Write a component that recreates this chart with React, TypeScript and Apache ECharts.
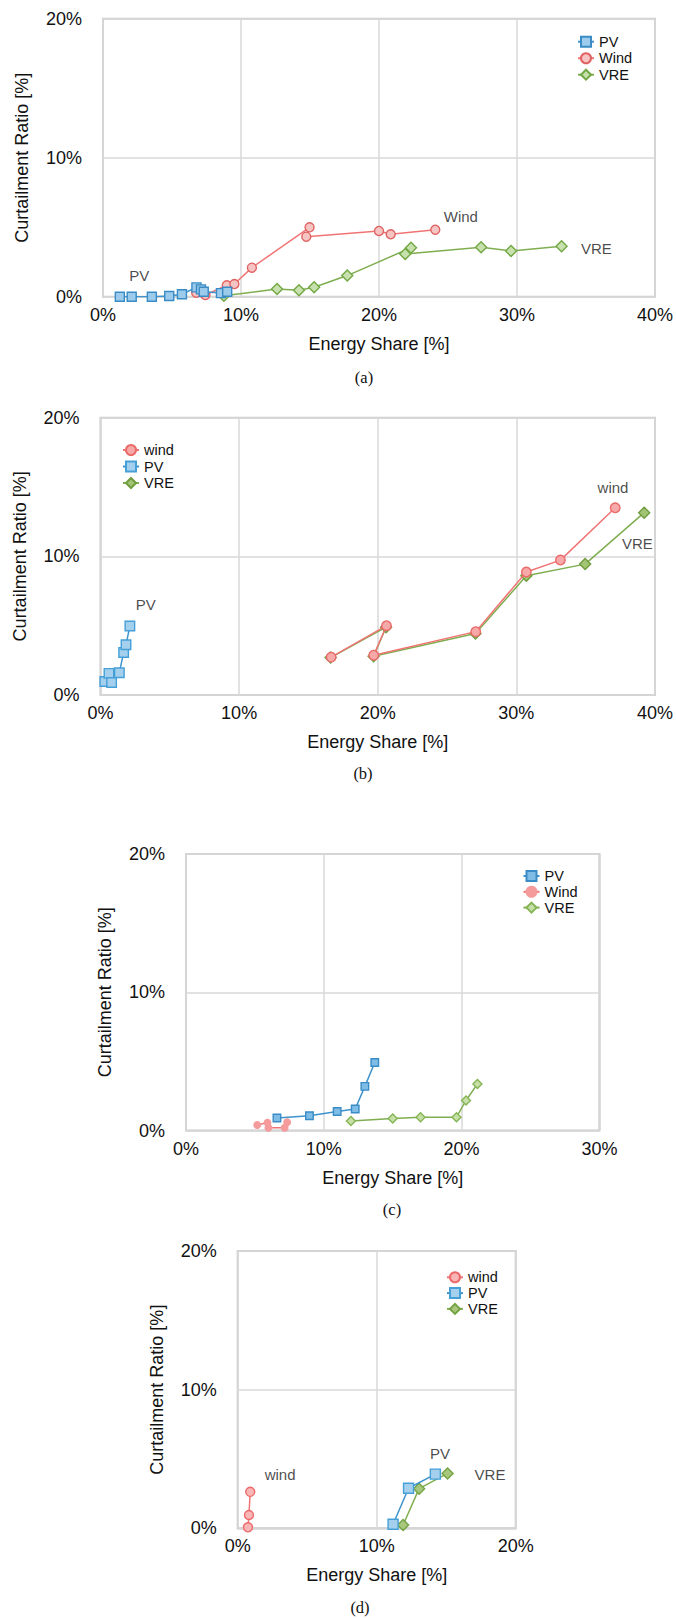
import React, { useEffect, useRef } from "react";
import * as echarts from "echarts";

// ---------- data (Energy Share %, Curtailment Ratio %) ----------
const panelNames = ["(a)", "(b)", "(c)", "(d)"];
const xMaxes = [40, 40, 30, 20];
const yMax = 20;

const pvA = [[1.22, 0], [2.08, 0], [3.54, 0], [4.8, 0.05], [5.72, 0.18], [6.77, 0.67], [7.1, 0.53], [7.3, 0.36], [8.55, 0.26], [9.0, 0.36]];
const windA = [[6.75, 0.29], [7.42, 0.12], [8.97, 0.82], [9.52, 0.91], [10.79, 2.09], [14.97, 4.99], [14.73, 4.32], [20.0, 4.73], [20.85, 4.49], [24.08, 4.82]];
const vreA = [[8.76, 0.06], [12.61, 0.56], [14.2, 0.46], [15.3, 0.68], [17.7, 1.52], [22.32, 3.52], [21.9, 3.07], [27.4, 3.56], [29.57, 3.29], [33.23, 3.63]];

const windB = [[16.64, 2.73], [20.63, 5.0], [19.71, 2.87], [27.07, 4.57], [30.72, 8.87], [33.18, 9.73], [37.13, 13.5]];
const pvB = [[0.31, 0.97], [0.61, 1.56], [0.8, 0.9], [1.36, 1.61], [1.67, 3.07], [1.84, 3.62], [2.12, 4.98]];
const vreB = [[16.6, 2.7], [20.6, 4.89], [19.7, 2.8], [27.05, 4.44], [30.72, 8.6], [34.96, 9.44], [39.22, 13.15]];

const pvC = [[6.6, 0.9], [8.96, 1.07], [10.97, 1.37], [12.28, 1.56], [12.98, 3.19], [13.7, 4.92]];
const windC = [[5.17, 0.4], [5.91, 0.57], [5.98, 0.2], [7.16, 0.2], [7.34, 0.6]];
const vreC = [[11.97, 0.69], [15.0, 0.87], [17.02, 0.96], [19.63, 0.96], [20.32, 2.17], [21.15, 3.37]];

const windD = [[0.74, 0.07], [0.81, 0.96], [0.9, 2.63]];
const pvD = [[11.18, 0.29], [12.29, 2.89], [14.22, 3.91]];
const vreD = [[11.9, 0.24], [13.05, 2.86], [15.1, 3.96]];

const legendA = ["PV", "Wind", "VRE"];
const legendB = ["wind", "PV", "VRE"];
const legendC = ["PV", "Wind", "VRE"];
const legendD = ["wind", "PV", "VRE"];

// in-plot annotations: [text, energy share %, curtailment %]
const notesA: [string, number, number][] = [["PV", 2.63, 1.5], ["Wind", 25.93, 5.8], ["VRE", 35.75, 3.49]];
const notesB: [string, number, number][] = [["PV", 3.26, 6.5], ["wind", 36.97, 14.98], ["VRE", 38.73, 10.91]];
const notesD: [string, number, number][] = [["wind", 3.05, 3.9], ["PV", 14.56, 5.42], ["VRE", 18.15, 3.9]];

const FONT = "Liberation Sans";

const BLUE_LINE = "#3f93cc";
const RED_LINE = "#f07474";
const GREEN_LINE = "#7fae50";

type Sty = { fill: string; border: string; size: number };

function lineSeries(id: string, label: string, idx: number, data: number[][], symbol: string, lineColor: string, s: Sty, z: number) {
  return {
    type: "line",
    name: id + ":" + label,
    xAxisIndex: idx,
    yAxisIndex: idx,
    data,
    symbol,
    symbolSize: s.size,
    showSymbol: true,
    z,
    lineStyle: { color: lineColor, width: 1.5 },
    itemStyle: { color: s.fill, borderColor: s.border, borderWidth: 1.4 },
    emphasis: { disabled: true },
  };
}

function noteSeries(idx: number, notes: [string, number, number][]) {
  return {
    type: "scatter",
    name: "notes" + idx,
    xAxisIndex: idx,
    yAxisIndex: idx,
    symbolSize: 0,
    silent: true,
    z: 20,
    data: notes.map((n) => ({ name: n[0], value: [n[1], n[2]] })),
    label: {
      show: true,
      position: "inside",
      formatter: (p: any) => p.name,
      fontFamily: FONT,
      fontSize: 15,
      color: "#1a1a1a",
    },
  };
}

export default function App() {
  const ref = useRef<HTMLDivElement>(null);
  useEffect(() => {
    if (!ref.current) return;
    const chart = echarts.init(ref.current, undefined, { renderer: "svg" });

    const grids = [
      { left: 103, top: 18.7, width: 554.5, height: 278 },
      { left: 100.5, top: 417.7, width: 555, height: 277.3 },
      { left: 186, top: 854, width: 413.4, height: 276.5 },
      { left: 237.7, top: 1251, width: 278, height: 277.3 },
    ].map((g) => ({ ...g, show: true, borderColor: "#c9c9c9", borderWidth: 2, backgroundColor: "#ffffff" }));

    const xAxes = xMaxes.map((mx, i) => ({
      type: "value",
      gridIndex: i,
      min: 0,
      max: mx,
      interval: 10,
      name: "Energy Share [%]",
      nameLocation: "middle",
      nameGap: 38,
      nameTextStyle: { fontFamily: FONT, fontSize: 18, color: "#111111" },
      axisLine: { show: false },
      axisTick: { show: false },
      axisLabel: { formatter: "{value}%", fontFamily: FONT, fontSize: 18, color: "#111111", margin: 9 },
      splitLine: { show: true, lineStyle: { color: "#d9d9d9", width: 1.5 } },
    }));
    const yAxes = xMaxes.map((_, i) => ({
      type: "value",
      gridIndex: i,
      min: 0,
      max: yMax,
      interval: 10,
      name: "Curtailment Ratio [%]",
      nameLocation: "middle",
      nameGap: 72,
      nameTextStyle: { fontFamily: FONT, fontSize: 18, color: "#111111" },
      axisLine: { show: false },
      axisTick: { show: false },
      axisLabel: { formatter: "{value}%", fontFamily: FONT, fontSize: 18, color: "#111111", margin: 21 },
      splitLine: { show: true, lineStyle: { color: "#d9d9d9", width: 1.5 } },
    }));

    const series: any[] = [
      // (a)
      lineSeries("a", "VRE", 0, vreA, "diamond", GREEN_LINE, { fill: "#c8e0ad", border: "#72a844", size: 11 }, 3),
      lineSeries("a", "Wind", 0, windA, "circle", RED_LINE, { fill: "#f7c4c4", border: "#e06262", size: 9 }, 4),
      lineSeries("a", "PV", 0, pvA, "rect", BLUE_LINE, { fill: "#9ccbeb", border: "#3a8cc6", size: 9 }, 5),
      // (b)
      lineSeries("b", "VRE", 1, vreB, "diamond", GREEN_LINE, { fill: "#a2c474", border: "#6f9d40", size: 11 }, 3),
      lineSeries("b", "PV", 1, pvB, "rect", BLUE_LINE, { fill: "#a4d0ee", border: "#45a0d8", size: 9.5 }, 4),
      lineSeries("b", "wind", 1, windB, "circle", RED_LINE, { fill: "#f7a9a9", border: "#ea6a6a", size: 9.5 }, 5),
      // (c)
      lineSeries("c", "VRE", 2, vreC, "diamond", GREEN_LINE, { fill: "#c6dfa6", border: "#86b556", size: 9 }, 3),
      lineSeries("c", "Wind", 2, windC, "circle", RED_LINE, { fill: "#f59b9b", border: "#f59b9b", size: 6.5 }, 4),
      lineSeries("c", "PV", 2, pvC, "rect", BLUE_LINE, { fill: "#7fbde6", border: "#3a8cc6", size: 7.5 }, 5),
      // (d)
      lineSeries("d", "VRE", 3, vreD, "diamond", GREEN_LINE, { fill: "#a7c77c", border: "#74a344", size: 11 }, 3),
      lineSeries("d", "PV", 3, pvD, "rect", BLUE_LINE, { fill: "#a4d0ee", border: "#45a0d8", size: 10 }, 4),
      lineSeries("d", "wind", 3, windD, "circle", RED_LINE, { fill: "#f8b6b6", border: "#ee6a6a", size: 9 }, 5),
      noteSeries(0, notesA),
      noteSeries(1, notesB),
      noteSeries(3, notesD),
    ];

    const legendBase = {
      orient: "vertical",
      itemWidth: 16,
      itemHeight: 12.5,
      itemGap: 1.5,
      selectedMode: false,
      formatter: (n: string) => n.split(":")[1],
      textStyle: { fontFamily: FONT, fontSize: 14.5, lineHeight: 15, color: "#111111" },
    };
    const legends = [
      { ...legendBase, left: 572, top: 29.2, data: legendA.map((n) => "a:" + n) },
      { ...legendBase, left: 117, top: 437.5, data: legendB.map((n) => "b:" + n) },
      { ...legendBase, left: 517.5, top: 863.5, itemGap: 0.8, data: legendC.map((n) => "c:" + n) },
      { ...legendBase, left: 441, top: 1264.8, itemGap: 0.8, data: legendD.map((n) => "d:" + n) },
    ];

    const captionPos = [[364, 377], [363, 773], [392, 1209.5], [360, 1607]];
    const graphic = panelNames.map((t, i) => ({
      type: "text",
      x: captionPos[i][0],
      y: captionPos[i][1],
      style: {
        text: t,
        fontFamily: "Liberation Serif",
        fontSize: 16.5,
        fill: "#111111",
        textAlign: "center",
        textVerticalAlign: "middle",
      },
    }));

    chart.setOption({
      animation: false,
      backgroundColor: "#ffffff",
      textStyle: { fontFamily: FONT },
      grid: grids,
      xAxis: xAxes,
      yAxis: yAxes,
      legend: legends,
      series,
      graphic,
    });
    return () => chart.dispose();
  }, []);
  return <div ref={ref} style={{ position: "absolute", left: 0, top: 0, width: 676, height: 1618 }} />;
}
